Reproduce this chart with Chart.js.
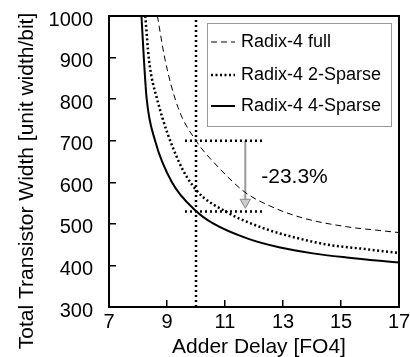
<!DOCTYPE html>
<html>
<head>
<meta charset="utf-8">
<script src="https://cdn.jsdelivr.net/npm/chart.js@4.4.1/dist/chart.umd.min.js"></script>
<style>
  html, body { margin: 0; padding: 0; background: #fff; }
  canvas { display: block; }
</style>
</head>
<body>
<canvas id="chart" width="410" height="357"></canvas>
<script>
const FONT = "'Liberation Sans', Arial, sans-serif";

const seriesNames = ['Radix-4 full', 'Radix-4 2-Sparse', 'Radix-4 4-Sparse'];

// adder delay [FO4] vs total transistor width
const fullDelay = [8.67, 8.93, 9.38, 10, 10.83, 11.69, 12.55, 13.69, 15.2, 16.34, 17];
const fullWidth = [1000, 896, 780, 700, 632, 576, 543, 514, 493, 484, 479];

const sparse2Delay = [8.25, 8.38, 8.66, 9.38, 10, 11.07, 12.31, 13.48, 14.62, 15.76, 17];
const sparse2Width = [1000, 894, 800, 654, 582, 528, 490, 466, 449, 440, 430];

const sparse4Delay = [8.12, 8.2, 8.3, 8.59, 9.17, 10, 10.59, 11.76, 12.9, 14.03, 15.2, 16.34, 17];
const sparse4Width = [1000, 900, 800, 700, 600, 531, 501, 465, 443, 429, 419, 411, 407];

const xTicks = [7, 9, 11, 13, 15, 17];
const yTicks = [300, 400, 500, 600, 700, 800, 900, 1000];

// comparison markers at 10 FO4
const refDelay = 10;
const refSpan = [9.62, 12.28];
const refHigh = 700;
const refLow = 530;
const arrowDelay = 11.7;
const arrowEnd = 552;
const reductionLabel = '-23.3%';
const reductionAt = [12.25, 613];

const xTitle = 'Adder Delay [FO4]';
const yTitle = 'Total Transistor Width [unit width/bit]';

const pts = (xs, ys) => xs.map((v, i) => ({ x: v, y: ys[i] }));

const seriesStyle = [
    { borderWidth: 1, borderDash: [6, 4] },
    { borderWidth: 2.5, borderDash: [2, 2.5] },
    { borderWidth: 2, borderDash: [] }
];

const curves = [
    pts(fullDelay, fullWidth),
    pts(sparse2Delay, sparse2Width),
    pts(sparse4Delay, sparse4Width)
].map((data, i) => Object.assign({
    label: seriesNames[i],
    data,
    borderColor: '#000',
    pointRadius: 0,
    cubicInterpolationMode: 'monotone'
}, seriesStyle[i]));

const refLine = (data) => ({
    data,
    borderColor: '#000',
    borderWidth: 2.5,
    borderDash: [2, 3],
    pointRadius: 0
});

const datasets = curves.concat([
    refLine([{ x: refDelay, y: 300 }, { x: refDelay, y: 1000 }]),
    refLine([{ x: refSpan[0], y: refHigh }, { x: refSpan[1], y: refHigh }]),
    refLine([{ x: refSpan[0], y: refLow }, { x: refSpan[1], y: refLow }]),
    {
        data: [{ x: arrowDelay, y: refHigh }, { x: arrowDelay, y: arrowEnd }],
        borderColor: '#999',
        borderWidth: 2,
        pointRadius: [0, 6],
        pointStyle: 'triangle',
        rotation: 180,
        pointBackgroundColor: '#ccc',
        pointBorderColor: '#888',
        pointBorderWidth: 1
    }
]);

const decor = {
    id: 'decor',
    afterDraw(chart) {
        const { ctx, chartArea: a, scales: { x, y } } = chart;
        ctx.save();
        ctx.strokeStyle = '#000';
        ctx.lineWidth = 2;
        ctx.strokeRect(a.left, a.top, a.right - a.left, a.bottom - a.top);

        ctx.fillStyle = '#000';
        ctx.font = '21px ' + FONT;
        ctx.textAlign = 'left';
        ctx.textBaseline = 'middle';
        ctx.fillText(reductionLabel, x.getPixelForValue(reductionAt[0]), y.getPixelForValue(reductionAt[1]));

        ctx.textAlign = 'center';
        ctx.fillText(xTitle, 259, 347);
        ctx.save();
        ctx.translate(27, 181);
        ctx.rotate(-Math.PI / 2);
        ctx.fillText(yTitle, 0, 0);
        ctx.restore();

        // legend box inside the plot
        const bx = a.left + 98, by = a.top + 7, bw = 184, bh = 103;
        ctx.fillStyle = '#fff';
        ctx.fillRect(bx, by, bw, bh);
        ctx.strokeStyle = '#999';
        ctx.lineWidth = 1;
        ctx.strokeRect(bx + 0.5, by + 0.5, bw, bh);
        const rows = [19, 52, 83];
        ctx.font = '18px ' + FONT;
        ctx.textAlign = 'left';
        seriesNames.forEach((name, i) => {
            const ly = by + rows[i];
            ctx.strokeStyle = '#000';
            ctx.lineWidth = seriesStyle[i].borderWidth;
            ctx.setLineDash(seriesStyle[i].borderDash);
            ctx.beginPath();
            ctx.moveTo(bx + 4, ly);
            ctx.lineTo(bx + 28, ly);
            ctx.stroke();
            ctx.setLineDash([]);
            ctx.fillStyle = '#000';
            ctx.fillText(name, bx + 34, ly);
        });
        ctx.restore();
    }
};

new Chart(document.getElementById('chart'), {
    type: 'line',
    data: { datasets },
    options: {
        responsive: false,
        animation: false,
        devicePixelRatio: 1,
        layout: { padding: { top: 16, right: 11, left: 0, bottom: 0 } },
        plugins: { legend: { display: false }, tooltip: { enabled: false } },
        scales: {
            x: {
                type: 'linear',
                min: 7,
                max: 17,
                afterBuildTicks: s => { s.ticks = xTicks.map(v => ({ value: v })); },
                afterFit: s => { s.height = 50; s.paddingLeft = 0; s.paddingRight = 0; },
                ticks: { color: '#000', font: { family: FONT, size: 20 }, padding: 10, autoSkip: false, maxRotation: 0, callback: v => String(v) },
                grid: { drawOnChartArea: false, drawTicks: true, tickLength: -7, color: '#000', lineWidth: 1.5 },
                border: { display: true, color: '#000', width: 2 }
            },
            y: {
                type: 'linear',
                min: 300,
                max: 1000,
                afterBuildTicks: s => { s.ticks = yTicks.map(v => ({ value: v })); },
                afterFit: s => { s.width = 109; s.paddingTop = 0; s.paddingBottom = 0; },
                ticks: { color: '#000', font: { family: FONT, size: 20 }, padding: 23, labelOffset: 4, callback: v => String(v) },
                grid: { drawOnChartArea: false, drawTicks: true, tickLength: -7, color: '#000', lineWidth: 1.5 },
                border: { display: true, color: '#000', width: 2 }
            }
        }
    },
    plugins: [decor]
});
</script>
</body>
</html>
